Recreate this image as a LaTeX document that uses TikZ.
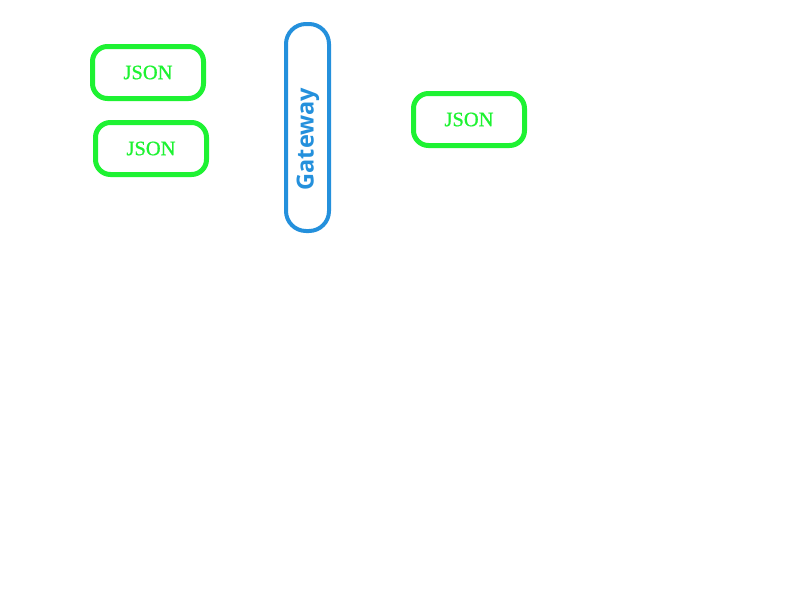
\documentclass[tikz,border=0pt]{standalone}
\usepackage{fontspec}
\setmainfont{Liberation Serif}
\newfontfamily\jsonfont[FakeBold=0.8]{Liberation Serif}
\newfontfamily\gwfont{Open Sans}
\definecolor{jgreen}{HTML}{1EF232}
\definecolor{gblue}{HTML}{2490DC}
\begin{document}
\begin{tikzpicture}[x=1pt,y=-1pt,
  jsonbox/.style={draw=jgreen,line width=5pt,rounded corners=15pt,minimum width=111pt,minimum height=52pt,text=jgreen,font=\jsonfont\fontsize{20.5pt}{24pt}\selectfont,inner sep=0pt},
  gwbox/.style={draw=gblue,line width=4pt,rounded corners=20pt,minimum width=43pt,minimum height=207pt,inner sep=0pt}]
\useasboundingbox (0,0) rectangle (800,600);
\node[jsonbox] (j1) at (148,72.5) {JSON};
\node[jsonbox] (j2) at (151,148.5) {JSON};
\node[jsonbox] (j3) at (469,119.5) {JSON};
\node[gwbox] (gw) at (307.5,127.5) {};
\node[rotate=90,text=gblue,font=\gwfont\bfseries\fontsize{23.5pt}{28pt}\selectfont,inner sep=0pt] (gwt) at ([xshift=0.5pt,yshift=-11.5pt]gw.center) {Gateway};
\end{tikzpicture}
\end{document}
